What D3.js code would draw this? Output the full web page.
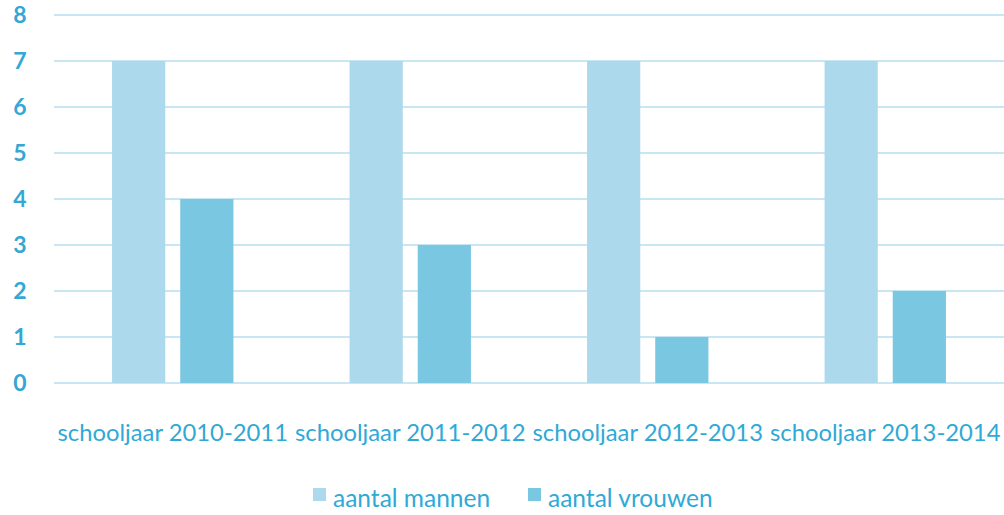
<!DOCTYPE html>
<html lang="nl">
<head>
<meta charset="utf-8">
<title>Aantal mannen en vrouwen per schooljaar</title>
<script src="https://d3js.org/d3.v7.min.js"></script>
<style>
  body { margin: 0; background: #ffffff; }
  .grid line { stroke: #c9e7f3; stroke-width: 2px; }
  .tick-label { font-family: Lato, "Open Sans", sans-serif; font-weight: bold; font-size: 23px; fill: #34a7d4; }
  .cat-label { font-family: Lato, "Open Sans", sans-serif; font-size: 23.8px; fill: #2fa9d6; }
  .legend text { font-family: Lato, "Open Sans", sans-serif; font-size: 24.5px; fill: #2fa9d6; }
</style>
</head>
<body>
<div id="chart"></div>
<script>
  // data
  var categories = ["schooljaar 2010-2011", "schooljaar 2011-2012", "schooljaar 2012-2013", "schooljaar 2013-2014"];
  var seriesNames = ["aantal mannen", "aantal vrouwen"];
  var mannen = [7, 7, 7, 7];
  var vrouwen = [4, 3, 1, 2];
  var yTicks = [0, 1, 2, 3, 4, 5, 6, 7, 8];
  var colors = ["#acd9ec", "#7ac7e2"];

  var width = 1004, height = 515;
  var plotLeft = 54, plotRight = 1004, plotTop = 15, plotBottom = 383;

  var svg = d3.select("#chart").append("svg")
      .attr("width", width)
      .attr("height", height);

  var x = d3.scaleBand().domain(categories).range([plotLeft, plotRight]);
  var y = d3.scaleLinear().domain([0, 8]).range([plotBottom, plotTop]);

  var series = [mannen, vrouwen];
  var barW = x.bandwidth() * 0.224;
  var gap = x.bandwidth() * 0.063;

  // gridlines
  svg.append("g").attr("class", "grid")
    .selectAll("line").data(yTicks).enter().append("line")
      .attr("x1", plotLeft).attr("x2", plotRight)
      .attr("y1", function(d) { return y(d); })
      .attr("y2", function(d) { return y(d); });

  // y labels
  svg.append("g").selectAll("text").data(yTicks).enter().append("text")
      .attr("class", "tick-label")
      .attr("x", 20)
      .attr("y", function(d) { return y(d); })
      .attr("dy", "0.36em")
      .attr("text-anchor", "middle")
      .text(function(d) { return d; });

  // bars
  series.forEach(function(vals, s) {
    svg.append("g").selectAll("rect").data(vals).enter().append("rect")
        .attr("x", function(d, i) {
          var c = x(categories[i]) + x.bandwidth() / 2;
          return s === 0 ? c - gap / 2 - barW : c + gap / 2;
        })
        .attr("y", function(d) { return y(d); })
        .attr("width", barW)
        .attr("height", function(d) { return y(0) - y(d); })
        .attr("fill", colors[s]);
  });

  // category labels
  svg.append("g").selectAll("text").data(categories).enter().append("text")
      .attr("class", "cat-label")
      .attr("x", function(d) { return x(d) + x.bandwidth() / 2; })
      .attr("y", 441)
      .attr("text-anchor", "middle")
      .text(function(d) { return d; });

  // legend
  var legendX = [313, 528];
  var legend = svg.append("g").attr("class", "legend");
  seriesNames.forEach(function(name, i) {
    legend.append("rect")
        .attr("x", legendX[i]).attr("y", 488)
        .attr("width", 13).attr("height", 13)
        .attr("fill", colors[i]);
    legend.append("text")
        .attr("x", legendX[i] + 20).attr("y", 507)
        .text(name);
  });
</script>
</body>
</html>
